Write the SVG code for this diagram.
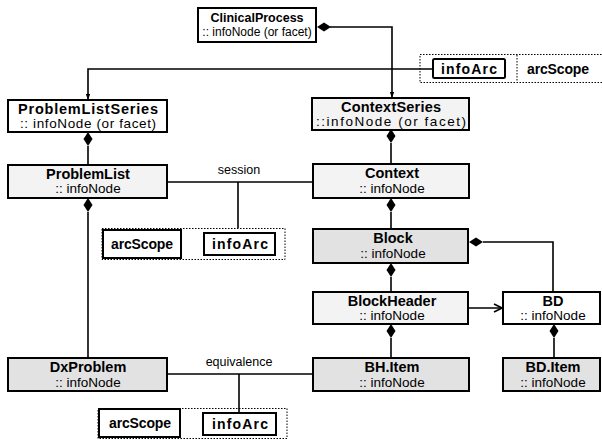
<svg xmlns="http://www.w3.org/2000/svg" width="602" height="441" viewBox="0 0 602 441">
  <style>
    .box { stroke: #000; stroke-width: 2; }
    .plain { fill: #fff; }
    .light { fill: #f3f3f3; }
    .dark { fill: #e2e2e2; }
    .title { font-family: "Liberation Sans", Arial, sans-serif; font-weight: bold; font-size: 14.5px; text-anchor: middle; fill: #000; }
    .sub { font-family: "Liberation Sans", Arial, sans-serif; font-size: 13.5px; text-anchor: middle; fill: #000; }
    .lbl { font-family: "Liberation Sans", Arial, sans-serif; font-size: 12.5px; text-anchor: middle; fill: #000; }
    .tag { font-family: "Liberation Sans", Arial, sans-serif; font-weight: bold; font-size: 14px; text-anchor: middle; fill: #000; }
    .line { stroke: #000; stroke-width: 1.6; fill: none; }
    .dots { stroke: #000; stroke-width: 1; stroke-dasharray: 1.5 1.5; fill: none; }
    .dia { fill: #000; }
  </style>
  <defs>
    <marker id="tip" viewBox="0 0 8 8" refX="7" refY="4" markerWidth="6" markerHeight="6" orient="auto" markerUnits="userSpaceOnUse">
      <path d="M0,1 L8,4 L0,7 z" fill="#000"/>
    </marker>
    <marker id="chev" viewBox="0 0 10 10" refX="9" refY="5" markerWidth="10" markerHeight="10" orient="auto" markerUnits="userSpaceOnUse">
      <path d="M1,1 L9,5 L1,9" fill="none" stroke="#000" stroke-width="1.6"/>
    </marker>
  </defs>

  <!-- connectors -->
  <g id="connectors">
    <!-- ClinicalProcess to ContextSeries -->
    <path class="line" d="M330,27 H392 V97" marker-end="url(#tip)"/>
    <path class="dia" d="M317,27 L324,22.5 L331,27 L324,31.5 z"/>
    <!-- infoArc to ProblemListSeries -->
    <path class="line" d="M433,69 H88 V99" marker-end="url(#tip)"/>
    <!-- ProblemListSeries to ProblemList -->
    <path class="line" d="M88,146 V165"/>
    <path class="dia" d="M88,132 L92.5,139 L88,146 L83.5,139 z"/>
    <!-- ContextSeries to Context -->
    <path class="line" d="M391,143 V163"/>
    <path class="dia" d="M391,129 L395.5,136 L391,143 L386.5,136 z"/>
    <!-- session -->
    <path class="line" d="M167,182 H313"/>
    <path class="line" d="M238,182 V228"/>
    <text class="lbl" x="239" y="174">session</text>
    <!-- Context to Block -->
    <path class="line" d="M391,212 V230"/>
    <path class="dia" d="M391,198 L395.5,205 L391,212 L386.5,205 z"/>
    <!-- Block to BlockHeader -->
    <path class="line" d="M391,277 V292"/>
    <path class="dia" d="M391,263 L395.5,270 L391,277 L386.5,270 z"/>
    <!-- Block to BD -->
    <path class="line" d="M483,242 H553 V292"/>
    <path class="dia" d="M469,242 L476,237.5 L483,242 L476,246.5 z"/>
    <!-- BlockHeader to BD -->
    <path class="line" d="M469,308 H502" marker-end="url(#chev)"/>
    <!-- BlockHeader to BH.Item -->
    <path class="line" d="M391,338 V358"/>
    <path class="dia" d="M391,324 L395.5,331 L391,338 L386.5,331 z"/>
    <!-- BD to BD.Item -->
    <path class="line" d="M554,338 V358"/>
    <path class="dia" d="M554,324 L558.5,331 L554,338 L549.5,331 z"/>
    <!-- ProblemList to DxProblem -->
    <path class="line" d="M88,212 V358"/>
    <path class="dia" d="M88,198 L92.5,205 L88,212 L83.5,205 z"/>
    <!-- equivalence -->
    <path class="line" d="M167,374 H313"/>
    <path class="line" d="M239,374 V413"/>
    <text class="lbl" x="239" y="366">equivalence</text>
  </g>

  <!-- arc descriptor, top right -->
  <g id="arc-top">
    <rect class="dots" x="420" y="54.5" width="185" height="28"/>
    <line class="dots" x1="517" y1="55" x2="517" y2="82"/>
    <rect class="box plain" x="433" y="59" width="72" height="19" rx="1.5" stroke-width="1.8"/>
    <text class="tag" x="469" y="73.5" textLength="56" lengthAdjust="spacing">infoArc</text>
    <text class="tag" x="558" y="73.5" textLength="62" lengthAdjust="spacing">arcScope</text>
  </g>

  <!-- arc descriptor, session -->
  <g id="arc-session">
    <rect class="dots" x="102" y="228.5" width="183" height="31"/>
    <rect class="box plain" x="103" y="230" width="78" height="28" stroke-width="1.8"/>
    <text class="tag" x="142" y="249" textLength="62" lengthAdjust="spacing">arcScope</text>
    <rect class="box plain" x="204" y="233" width="71" height="22" stroke-width="1.8"/>
    <text class="tag" x="240" y="249" textLength="56" lengthAdjust="spacing">infoArc</text>
  </g>

  <!-- arc descriptor, equivalence -->
  <g id="arc-equivalence">
    <rect class="dots" x="98" y="408.5" width="189" height="30"/>
    <rect class="box plain" x="99" y="409" width="81" height="28" stroke-width="1.8"/>
    <text class="tag" x="140" y="428" textLength="62" lengthAdjust="spacing">arcScope</text>
    <rect class="box plain" x="203" y="413" width="73" height="22" stroke-width="1.8"/>
    <text class="tag" x="240" y="429" textLength="56" lengthAdjust="spacing">infoArc</text>
  </g>

  <!-- nodes -->
  <g id="clinical-process">
    <rect class="box plain" x="198" y="8" width="118" height="34"/>
    <text class="title" x="257" y="22" style="font-size:12.5px">ClinicalProcess</text>
    <text class="sub" x="257" y="36" style="font-size:12px">:: infoNode (or facet)</text>
  </g>

  <g id="problem-list-series">
    <rect class="box plain" x="8" y="100" width="159" height="32"/>
    <text class="title" x="88" y="114" textLength="140" lengthAdjust="spacing">ProblemListSeries</text>
    <text class="sub" x="88" y="128" textLength="136" lengthAdjust="spacing">:: infoNode (or facet)</text>
  </g>

  <g id="context-series">
    <rect class="box light" x="312" y="98" width="157" height="32"/>
    <text class="title" x="391" y="112" textLength="100" lengthAdjust="spacing">ContextSeries</text>
    <text class="sub" x="391" y="126" textLength="150" lengthAdjust="spacing">::infoNode (or facet)</text>
  </g>

  <g id="problem-list">
    <rect class="box light" x="8" y="165" width="159" height="33"/>
    <text class="title" x="88" y="179">ProblemList</text>
    <text class="sub" x="88" y="193">:: infoNode</text>
  </g>

  <g id="context">
    <rect class="box light" x="313" y="164" width="156" height="34"/>
    <text class="title" x="392" y="178">Context</text>
    <text class="sub" x="392" y="193">:: infoNode</text>
  </g>

  <g id="block">
    <rect class="box dark" x="313" y="229" width="155" height="34"/>
    <text class="title" x="393" y="243">Block</text>
    <text class="sub" x="393" y="258">:: infoNode</text>
  </g>

  <g id="block-header">
    <rect class="box light" x="313" y="292" width="155" height="32"/>
    <text class="title" x="392" y="306">BlockHeader</text>
    <text class="sub" x="392" y="320">:: infoNode</text>
  </g>

  <g id="bd">
    <rect class="box plain" x="503" y="292" width="97" height="32"/>
    <text class="title" x="553" y="306">BD</text>
    <text class="sub" x="553" y="320">:: infoNode</text>
  </g>

  <g id="dx-problem">
    <rect class="box dark" x="8" y="358" width="159" height="33"/>
    <text class="title" x="88" y="372">DxProblem</text>
    <text class="sub" x="88" y="387">:: infoNode</text>
  </g>

  <g id="bh-item">
    <rect class="box dark" x="313" y="358" width="156" height="33"/>
    <text class="title" x="392" y="372">BH.Item</text>
    <text class="sub" x="392" y="387">:: infoNode</text>
  </g>

  <g id="bd-item">
    <rect class="box dark" x="503" y="358" width="97" height="33"/>
    <text class="title" x="553" y="372">BD.Item</text>
    <text class="sub" x="553" y="387">:: infoNode</text>
  </g>
</svg>
